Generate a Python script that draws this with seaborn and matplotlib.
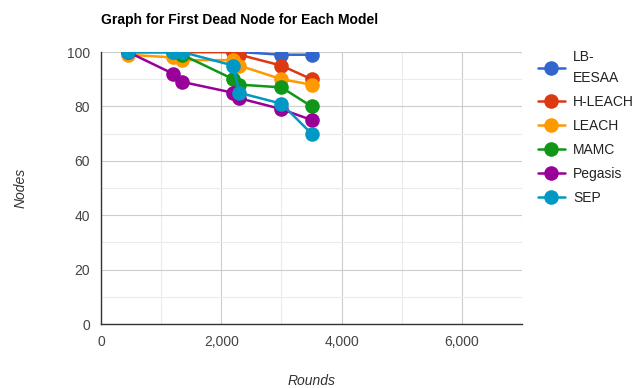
import matplotlib
matplotlib.use("Agg")
import matplotlib.pyplot as plt
import seaborn as sns
import pandas as pd
from matplotlib.ticker import MultipleLocator, FuncFormatter

rounds = [450, 1200, 1350, 2200, 2300, 3000, 3500]
lb_eesaa = [100, 100, 100, 100, 100, 99, 99]
h_leach = [100, 100, 100, 100, 99, 95, 90]
leach = [99, 98, 97, 97, 95, 90, 88]
mamc = [100, 100, 99, 90, 88, 87, 80]
pegasis = [100, 92, 89, 85, 83, 79, 75]
sep = [100, 100, 100, 95, 85, 81, 70]
models = ["LB-\nEESAA", "H-LEACH", "LEACH", "MAMC", "Pegasis", "SEP"]
colors = ["#3366cc", "#dc3912", "#ff9900", "#109618", "#990099", "#0099c6"]

series = [lb_eesaa, h_leach, leach, mamc, pegasis, sep]
rows = []
for m, vals in zip(models, series):
    for r, v in zip(rounds, vals):
        rows.append({"Rounds": r, "Nodes": v, "Model": m})
df = pd.DataFrame(rows)

sns.set_style("white")
plt.rcParams["font.family"] = ["Liberation Sans", "DejaVu Sans"]

fig = plt.figure(figsize=(6.38, 3.88), dpi=100)
ax = fig.add_axes([101/638, 64/388, 421/638, 272/388])

sns.lineplot(data=df, x="Rounds", y="Nodes", hue="Model", palette=colors,
             marker="o", markersize=10.5, markeredgewidth=0, linewidth=1.8,
             ax=ax, sort=False, estimator=None)

ax.set_xlim(0, 7000)
ax.set_ylim(0, 100)
ax.xaxis.set_major_locator(MultipleLocator(2000))
ax.xaxis.set_minor_locator(MultipleLocator(1000))
ax.yaxis.set_major_locator(MultipleLocator(20))
ax.yaxis.set_minor_locator(MultipleLocator(10))
ax.xaxis.set_major_formatter(FuncFormatter(lambda v, p: f"{int(v):,}"))
ax.grid(True, which="major", color="#cccccc", linewidth=0.8)
ax.grid(True, which="minor", color="#ebebeb", linewidth=0.8)
ax.set_axisbelow(True)
for s in ["top", "right"]:
    ax.spines[s].set_visible(False)
ax.spines["left"].set_color("#333333")
ax.spines["bottom"].set_color("#333333")
ax.spines["left"].set_linewidth(1)
ax.spines["bottom"].set_linewidth(1)
ax.tick_params(axis="both", which="both", length=0, labelsize=10, colors="#444444", pad=8)
ax.set_xlabel("Rounds", fontsize=10, fontstyle="italic", color="#333333", labelpad=18)
ax.set_ylabel("Nodes", fontsize=10, fontstyle="italic", color="#333333", labelpad=28)

fig.text(101/638, 1 - 20/388, "Graph for First Dead Node for Each Model",
         fontsize=10, fontweight="bold", color="#000000", va="center", ha="left")

handles, labels = ax.get_legend_handles_labels()
leg = ax.legend(handles, labels, loc="upper left", bbox_to_anchor=(525/638, 1 - 38/388),
                bbox_transform=fig.transFigure, frameon=False, fontsize=10,
                handlelength=2.0, handletextpad=0.58, labelspacing=0.72,
                labelcolor="#222222")
leg.get_texts()[0].set_linespacing(1.55)

fig.savefig("out.png", dpi=100)
